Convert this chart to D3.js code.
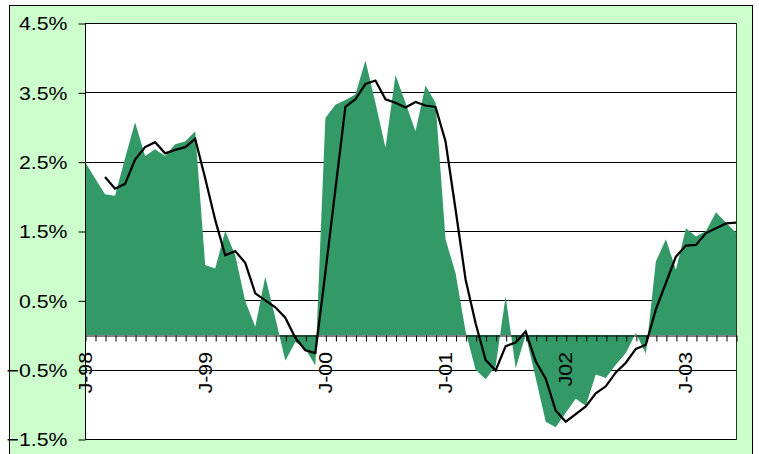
<!DOCTYPE html>
<html>
<head>
<meta charset="utf-8">
<script src="https://cdn.jsdelivr.net/npm/d3@7"></script>
<style>
  html, body { margin: 0; padding: 0; background: #ffffff; }
  svg { display: block; }
  text { font-family: "Liberation Sans", Arial, sans-serif; fill: #000; }
</style>
</head>
<body>
<svg id="chart" width="759" height="454"></svg>
<script>
// Monthly categories, Jan 1998 .. Jun 2003
const months = [
  "Jan-98","Feb-98","Mar-98","Apr-98","May-98","Jun-98","Jul-98","Aug-98","Sep-98","Oct-98","Nov-98","Dec-98",
  "Jan-99","Feb-99","Mar-99","Apr-99","May-99","Jun-99","Jul-99","Aug-99","Sep-99","Oct-99","Nov-99","Dec-99",
  "Jan-00","Feb-00","Mar-00","Apr-00","May-00","Jun-00","Jul-00","Aug-00","Sep-00","Oct-00","Nov-00","Dec-00",
  "Jan-01","Feb-01","Mar-01","Apr-01","May-01","Jun-01","Jul-01","Aug-01","Sep-01","Oct-01","Nov-01","Dec-01",
  "Jan-02","Feb-02","Mar-02","Apr-02","May-02","Jun-02","Jul-02","Aug-02","Sep-02","Oct-02","Nov-02","Dec-02",
  "Jan-03","Feb-03","Mar-03","Apr-03","May-03","Jun-03"
];

// Monthly rate (%), shown as the filled area
const monthly = [
  2.50, 2.26, 2.03, 2.01, 2.55, 3.07, 2.58, 2.68, 2.58, 2.75, 2.79, 2.94,
  1.01, 0.96, 1.50, 1.15, 0.49, 0.12, 0.84, 0.25, -0.37, -0.10, -0.20, -0.44,
  3.13, 3.32, 3.39, 3.47, 3.96, 3.35, 2.70, 3.75, 3.35, 2.94, 3.60, 3.35,
  1.38, 0.89, 0.05, -0.50, -0.64, -0.45, 0.56, -0.48, 0.00, -0.62, -1.25, -1.33,
  -1.12, -0.92, -1.02, -0.57, -0.62, -0.43, -0.26, 0.03, -0.27, 1.06, 1.38, 0.94,
  1.54, 1.42, 1.50, 1.77, 1.62, 1.48
];

// Three-month average (%), shown as the black line
const avg3 = [
  null, null, 2.28, 2.11, 2.18, 2.53, 2.71, 2.78, 2.62, 2.67, 2.71, 2.83,
  2.26, 1.66, 1.15, 1.21, 1.04, 0.60, 0.50, 0.40, 0.25, -0.04, -0.22, -0.26,
  0.90, 2.10, 3.29, 3.40, 3.62, 3.67, 3.40, 3.35, 3.28, 3.36, 3.31, 3.29,
  2.79, 1.81, 0.80, 0.17, -0.36, -0.51, -0.16, -0.11, 0.05, -0.38, -0.63, -1.09,
  -1.25, -1.14, -1.03, -0.84, -0.74, -0.54, -0.40, -0.20, -0.14, 0.37, 0.75, 1.13,
  1.29, 1.30, 1.47, 1.54, 1.61, 1.62
];

// Axis ticks and labels
const yTicks = [-1.5, -0.5, 0.5, 1.5, 2.5, 3.5, 4.5];
const yearTickMonths = ["Jan-98", "Jan-99", "Jan-00", "Jan-01", "Jan-02", "Jan-03"];
const yearTickLabels = ["J-98", "J-99", "J-00", "J-01", "J02", "J-03"];

const svg = d3.select("#chart");
const plot = { left: 85, right: 736, top: 23, bottom: 439 };

// Outer chart panel
svg.append("rect")
  .attr("x", 9.5).attr("y", 5.5)
  .attr("width", 743).attr("height", 470)
  .attr("fill", "#ccffcc")
  .attr("stroke", "#000").attr("stroke-width", 1);

// Plot background
svg.append("rect")
  .attr("x", plot.left).attr("y", plot.top)
  .attr("width", plot.right - plot.left).attr("height", plot.bottom - plot.top)
  .attr("fill", "#ffffff");

const x = d3.scalePoint().domain(months).range([plot.left, plot.right]);
const y = d3.scaleLinear().domain([-1.5, 4.5]).range([plot.bottom, plot.top]);

// Horizontal gridlines
svg.append("g")
  .selectAll("line")
  .data(yTicks)
  .join("line")
  .attr("x1", plot.left).attr("x2", plot.right)
  .attr("y1", d => Math.round(y(d)) + 0.5).attr("y2", d => Math.round(y(d)) + 0.5)
  .attr("stroke", "#000").attr("stroke-width", 1);

// Area of monthly values, filled to the zero line
const area = d3.area()
  .x((d, i) => x(months[i]))
  .y0(y(0))
  .y1(d => y(d));

svg.append("path")
  .datum(monthly)
  .attr("d", area)
  .attr("fill", "#339966");

// Right border of plot
svg.append("line")
  .attr("x1", plot.right + 0.5).attr("x2", plot.right + 0.5)
  .attr("y1", plot.top).attr("y2", plot.bottom + 1)
  .attr("stroke", "#333").attr("stroke-width", 1);

// Y axis
const yAxis = d3.axisLeft(y)
  .tickValues(yTicks)
  .tickSize(7)
  .tickFormat(d => d3.format(".1f")(d) + "%");

const gy = svg.append("g")
  .attr("transform", `translate(${plot.left + 0.5},0)`)
  .call(yAxis);
gy.select(".domain").attr("stroke", "#000").attr("d", `M0,${plot.top}V${plot.bottom + 1}`);
gy.selectAll(".tick line").attr("stroke", "#000").attr("transform", "translate(0,0.5)");
gy.selectAll(".tick text")
  .attr("x", null).attr("dy", null)
  .attr("text-anchor", "end")
  .attr("dominant-baseline", "central")
  .attr("font-size", 18.5)
  .attr("transform", "translate(-18,0.5) scale(1.15,1)");

// X axis at zero with a tick for every month
const xAxis = d3.axisBottom(x)
  .tickSize(6)
  .tickSizeOuter(0)
  .tickFormat(() => "");

const gx = svg.append("g")
  .attr("transform", `translate(0,${Math.round(y(0)) + 0.5})`)
  .call(xAxis);
gx.select(".domain").attr("stroke", "#000");
gx.selectAll(".tick line").attr("stroke", "#000").attr("transform", "translate(0.5,0)");

// Year labels, rotated
svg.append("g")
  .selectAll("text")
  .data(yearTickMonths)
  .join("text")
  .attr("text-anchor", "end")
  .attr("font-size", 18.5)
  .attr("transform", d => `translate(${x(d) + 6.5},${Math.round(y(0)) + 17}) rotate(-90) scale(1.15,1)`)
  .text((d, i) => yearTickLabels[i]);

// Three-month average line
const line = d3.line()
  .defined(d => d !== null)
  .x((d, i) => x(months[i]))
  .y(d => y(d));

svg.append("path")
  .datum(avg3)
  .attr("d", line)
  .attr("fill", "none")
  .attr("stroke", "#000")
  .attr("stroke-width", 2.25)
  .attr("stroke-linejoin", "miter");
</script>
</body>
</html>
